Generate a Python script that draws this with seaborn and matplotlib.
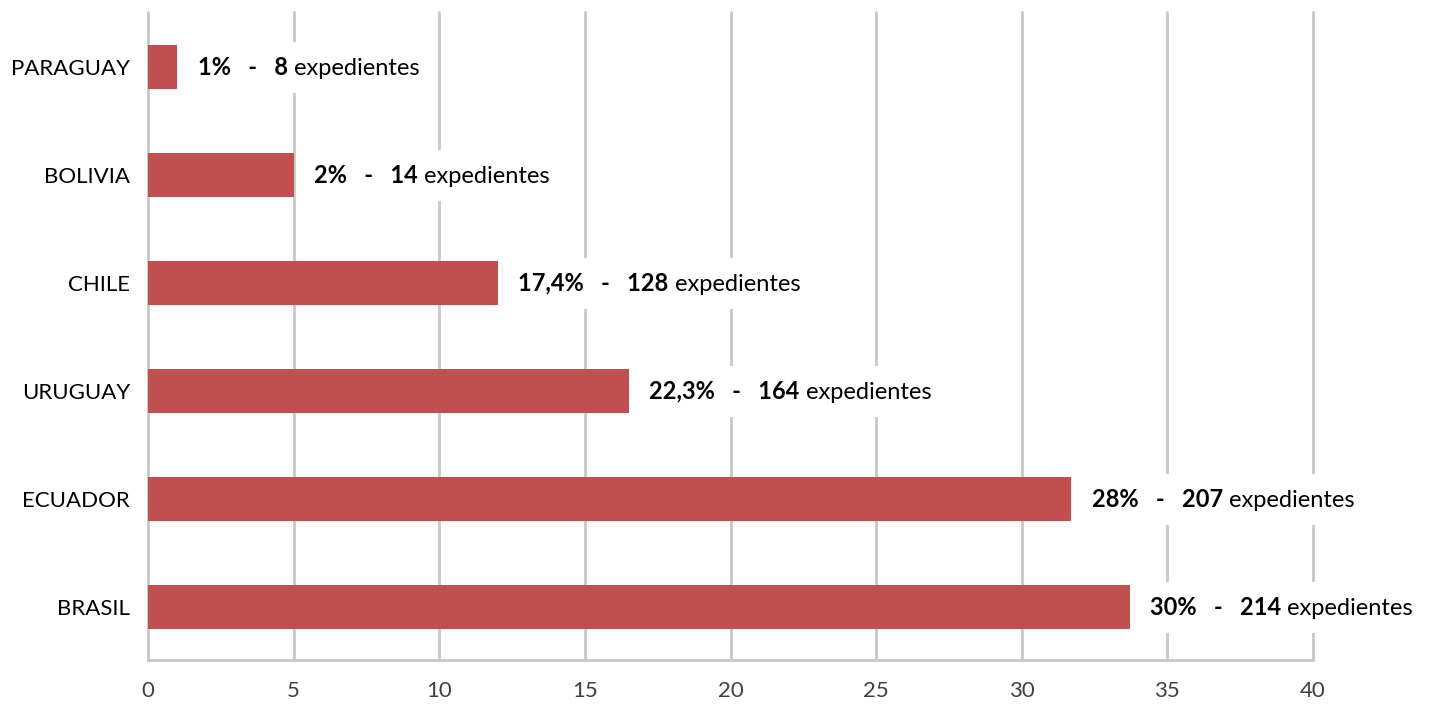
import matplotlib
matplotlib.use("Agg")
import matplotlib.pyplot as plt
import matplotlib.patches as mpatches
from matplotlib.transforms import Bbox
import pandas as pd
import seaborn as sns

countries = ["PARAGUAY", "BOLIVIA", "CHILE", "URUGUAY", "ECUADOR", "BRASIL"]
values = [1.0, 5.0, 12.0, 16.5, 31.7, 33.7]
pct_labels = ["1%", "2%", "17,4%", "22,3%", "28%", "30%"]
counts = [8, 14, 128, 164, 207, 214]
x_ticks = [0, 5, 10, 15, 20, 25, 30, 35, 40]

BAR = "#C0504D"
GRID = "#C8C8C8"


def main() -> None:
    sns.set_style("white")
    plt.rcParams["font.family"] = ["Lato", "DejaVu Sans"]

    df = pd.DataFrame({"country": countries, "value": values})

    fig = plt.figure(figsize=(14.29, 7.09), dpi=100)
    ax = fig.add_axes([148 / 1429, 1 - 660 / 709, (1313 - 148) / 1429, (660 - 12) / 709])

    sns.barplot(data=df, y="country", x="value", order=countries, color=BAR,
                saturation=1, width=0.41, orient="h", ax=ax, zorder=2,
                linewidth=0)

    ax.set_xlim(0, 40)
    ax.set_ylim(5.49, -0.51)
    ax.set_xticks(x_ticks)
    ax.set_xlabel("")
    ax.set_ylabel("")
    ax.set_axisbelow(True)
    ax.grid(axis="x", color=GRID, linewidth=2)
    ax.grid(axis="y", visible=False)
    for gl in ax.get_xgridlines():
        gl.set_clip_on(False)

    for s in ["top", "right", "left"]:
        ax.spines[s].set_visible(False)
    ax.spines["bottom"].set_color(GRID)
    ax.spines["bottom"].set_linewidth(2)

    ax.tick_params(axis="x", length=9, width=2, color=GRID, direction="out",
                   labelsize=16, labelcolor="#404040", pad=6)
    ax.tick_params(axis="y", length=0, labelsize=16, labelcolor="black", pad=13)

    # labels: bold part + regular part, on a white box that hides the grid
    pieces = []
    for i, (v, p, c) in enumerate(zip(values, pct_labels, counts)):
        t1 = ax.annotate(f"{p}   -   {c}", xy=(v, i), xytext=(15, 0),
                         textcoords="offset points", ha="left", va="center",
                         fontsize=17, fontweight="bold", color="black", zorder=4)
        t2 = ax.annotate(" expedientes", xy=(1, 0), xycoords=t1, ha="left",
                         va="bottom", fontsize=17, color="black", zorder=4)
        pieces.append((t1, t2))

    fig.canvas.draw()
    inv = ax.transData.inverted()
    for t1, t2 in pieces:
        bb = Bbox.union([t1.get_window_extent(), t2.get_window_extent()])
        x0, y0 = bb.x0 - 12, bb.y0 - 14
        x1, y1 = bb.x1 + 12, bb.y1 + 14
        (dx0, dy0), (dx1, dy1) = inv.transform([(x0, y0), (x1, y1)])
        ax.add_patch(mpatches.Rectangle((dx0, dy0), dx1 - dx0, dy1 - dy0,
                                        facecolor="white", edgecolor="none",
                                        zorder=1, clip_on=False))

    fig.savefig("out.png", dpi=100)
    plt.close(fig)


if __name__ == "__main__":
    main()
